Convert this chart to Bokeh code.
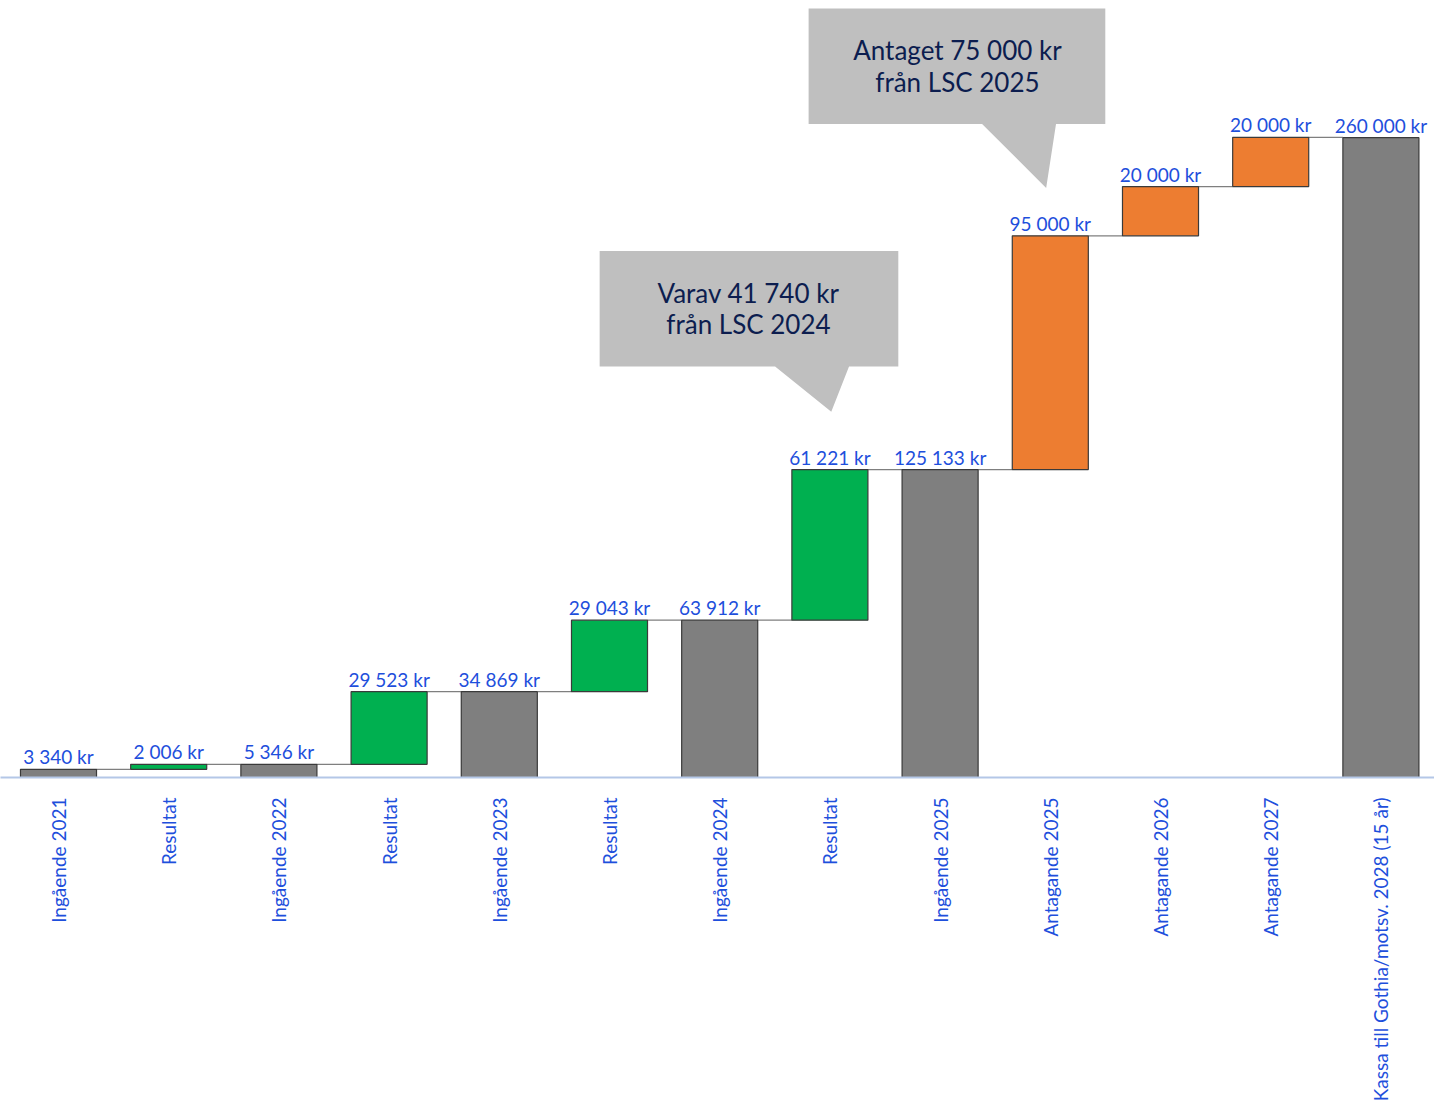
from math import pi
from bokeh.plotting import figure
from bokeh.models import Range1d, ColumnDataSource, FixedTicker
from bokeh.core.properties import value
from bokeh.embed import file_html
from bokeh.resources import INLINE

categories = ["Ingående 2021", "Resultat", "Ingående 2022", "Resultat", "Ingående 2023",
              "Resultat", "Ingående 2024", "Resultat", "Ingående 2025", "Antagande 2025",
              "Antagande 2026", "Antagande 2027", "Kassa till Gothia/motsv. 2028 (15 år)"]
values = [3340, 2006, 5346, 29523, 34869, 29043, 63912, 61221, 125133, 95000, 20000, 20000, 260000]
kinds = ["total", "result", "total", "result", "total", "result", "total", "result",
         "total", "assumed", "assumed", "assumed", "total"]
callout_lines = [["Varav 41 740 kr", "från LSC 2024"], ["Antaget 75 000 kr", "från LSC 2025"]]

colors = {"total": "#7f7f7f", "result": "#00b050", "assumed": "#ed7d31"}
BLUE = "#1e4fdc"
FONT = "Lato"

xs, bottoms, tops, fills, labels = [], [], [], [], []
running = 0
for i, (v, k) in enumerate(zip(values, kinds)):
    if k == "total":
        b, t = 0, v
    else:
        b, t = running, running + v
    running = t
    xs.append(i); bottoms.append(b); tops.append(t); fills.append(colors[k])
    labels.append(f"{v:,}".replace(",", " ") + " kr")

src = ColumnDataSource(dict(x=xs, bottom=bottoms, top=tops, fill=fills, label=labels))

W, H = 1434, 1104
step = 110.2
x0 = -58 / step
BASE = 776
yscale = 260000 / (BASE - 137)
p = figure(width=W, height=H, output_backend="svg", toolbar_location=None,
           x_range=Range1d(x0, x0 + W / step), y_range=Range1d(0, BASE * yscale),
           y_axis_location=None, min_border_left=0, min_border_right=0,
           min_border_top=0, min_border_bottom=0)
p.outline_line_color = None
p.xgrid.visible = False
p.ygrid.visible = False
p.background_fill_color = "white"

bw = 0.69
# connectors
cx0 = [x + bw / 2 for x in xs[:-1]]
cx1 = [x + 1 - bw / 2 for x in xs[:-1]]
cy = tops[:-1]
p.segment(x0=cx0, y0=cy, x1=cx1, y1=cy, line_color="#7f7f7f", line_width=1.2)

p.vbar(x="x", bottom="bottom", top="top", width=bw, fill_color="fill",
       line_color="#3a3a3a", line_width=1.2, source=src)

p.text(x="x", y="top", text="label", source=src, text_align="center",
       text_baseline="bottom", y_offset=-1, text_color=BLUE,
       text_font=value(FONT), text_font_size="19px")

# callouts (annotation shapes), positions given in reference pixels
def px2x(px):
    return (px - 58) / 111.8

def py2y(py):
    return (786 - py) * 400.6

def callout(bx0, bx1, by0, by1, px0, px1, tipx, tipy, lines, tx, ty):
    p.patch([bx0, px0, tipx, px1, bx1, bx1, bx0], [by0, by0, tipy, by0, by0, by1, by1],
            fill_color="#bfbfbf", line_color=None)
    p.text(x=[tx, tx], y=ty, text=lines, text_align="center", text_baseline="middle",
           text_color="#0c1d4f", text_font=value(FONT), text_font_size="26px")

callout(px2x(607), px2x(910), py2y(369), py2y(252), px2x(785), px2x(860),
        px2x(842), py2y(415), callout_lines[0], px2x(758), [py2y(295), py2y(326)])
callout(px2x(819), px2x(1120), py2y(123), py2y(6), px2x(995), px2x(1070),
        px2x(1060), py2y(188), callout_lines[1], px2x(970), [py2y(48), py2y(80)])

ax = p.xaxis[0]
ax.ticker = FixedTicker(ticks=xs)
ax.major_label_overrides = {i: c for i, c in enumerate(categories)}
ax.major_label_orientation = pi / 2
ax.major_label_text_color = BLUE
ax.major_label_text_font = FONT
ax.major_label_text_font_size = "19px"
ax.major_label_standoff = 14
ax.major_tick_line_color = None
ax.minor_tick_line_color = None
ax.axis_line_color = "#b4c7e7"
ax.axis_line_width = 2

open("out.html", "w").write(file_html(p, INLINE))
